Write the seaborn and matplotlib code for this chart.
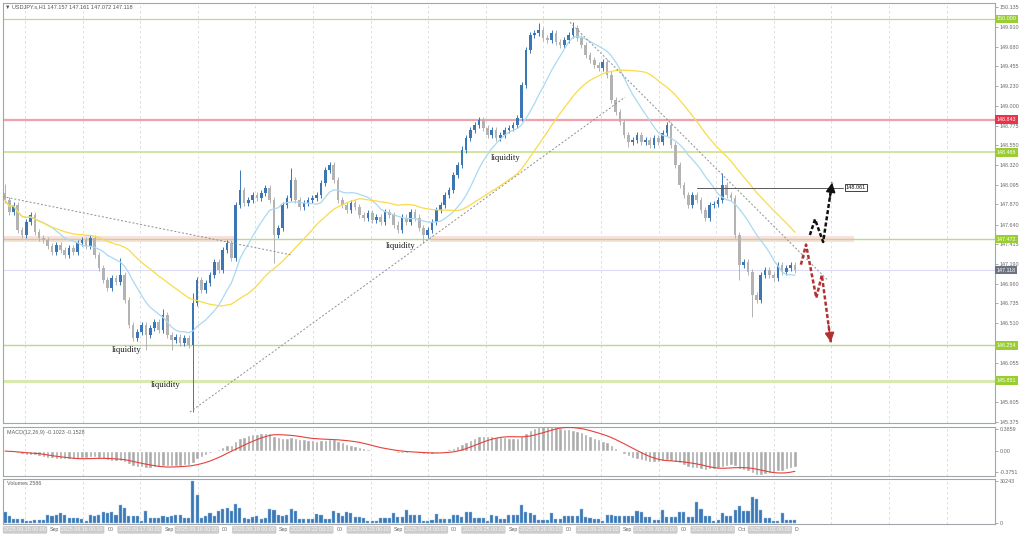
import numpy as np
import pandas as pd
import matplotlib
matplotlib.use("Agg")
import matplotlib.pyplot as plt
import matplotlib.transforms as mtransforms
import seaborn as sns

# ---- USDJPY.s H1, values ----
first_open = 148.00
closes = [
    147.92, 147.78, 147.86, 147.58, 147.52, 147.67, 147.75, 147.55, 147.49, 147.46,
    147.39, 147.33, 147.41, 147.35, 147.29, 147.37, 147.33, 147.43, 147.46, 147.39,
    147.49, 147.29, 147.14, 147.00, 146.91, 147.03, 146.98, 147.06, 146.77, 146.49,
    146.34, 146.41, 146.49, 146.37, 146.45, 146.52, 146.43, 146.60, 146.37, 146.32,
    146.35, 146.28, 146.34, 146.26, 146.74, 147.00, 146.89, 146.97, 147.06, 147.21,
    147.12, 147.35, 147.43, 147.26, 147.86, 148.04, 147.89, 147.92, 147.98, 147.94,
    148.00, 148.06, 147.92, 147.52, 147.60, 147.86, 147.94, 148.15, 147.92, 147.84,
    147.89, 147.92, 147.94, 147.98, 148.12, 148.27, 148.32, 148.15, 147.92, 147.86,
    147.81, 147.89, 147.84, 147.75, 147.72, 147.77, 147.69, 147.73, 147.67, 147.78,
    147.75, 147.64, 147.58, 147.72, 147.67, 147.78, 147.72, 147.60, 147.52, 147.58,
    147.67, 147.81, 147.86, 147.98, 148.04, 148.21, 148.32, 148.50, 148.63, 148.72,
    148.78, 148.84, 148.75, 148.67, 148.72, 148.63, 148.67, 148.72, 148.75, 148.78,
    148.86, 149.24, 149.64, 149.81, 149.84, 149.87, 149.78, 149.76, 149.84, 149.73,
    149.70, 149.76, 149.81, 149.89, 149.78, 149.70, 149.58, 149.53, 149.47, 149.44,
    149.50, 149.36, 149.07, 148.93, 148.82, 148.67, 148.59, 148.61, 148.67, 148.59,
    148.61, 148.55, 148.63, 148.59, 148.69, 148.78, 148.55, 148.32, 148.09, 147.98,
    147.86, 147.98, 147.92, 147.81, 147.72, 147.86, 147.88, 147.92, 148.09, 147.98,
    147.94, 147.52, 147.18, 147.21, 147.10, 146.83, 146.77, 147.06, 147.12, 147.06,
    147.03, 147.18, 147.10, 147.14, 147.18, 147.118,
]
volumes = [
    8100, 4900, 3000, 3000, 2800, 1200, 1500, 2500, 2500, 2200,
    6000, 5500, 6000, 7000, 6000, 3700, 3500, 3700, 3000, 1200,
    6000, 5500, 6000, 8000, 7500, 8000, 6000, 13000, 11000, 5000,
    5000, 4800, 1200, 8600, 3700, 3500, 3700, 5000, 4500, 5000,
    6000, 6000, 3700, 3500, 30000, 20000, 3700, 5000, 7000, 5500,
    9000, 10000, 11000, 9000, 14000, 11000, 4000, 3000, 4500, 5000,
    3000, 4000, 10000, 9500, 6000, 5500, 6000, 10000, 9000, 3000,
    2800, 3200, 3000, 6600, 6200, 3000, 3200, 8600, 7500, 5500,
    7900, 7500, 4200, 4200, 4000, 1200, 1500, 1200, 3700, 3500,
    3700, 7100, 4600, 4600, 9500, 6100, 6100, 5800, 1200, 1200,
    2000, 6600, 3000, 3000, 3200, 5900, 5900, 4200, 7900, 7900,
    3700, 3700, 3500, 1200, 6100, 5500, 3000, 3000, 6100, 6100,
    6100, 12800, 8000, 7000, 6000, 2200, 2200, 2500, 7100, 3000,
    3000, 5400, 5400, 5000, 5400, 10300, 4200, 4000, 3000, 3000,
    1200, 6100, 6000, 5400, 5400, 5000, 5400, 5000, 9100, 8000,
    4600, 4600, 2200, 2200, 9500, 4600, 4600, 4600, 7900, 7900,
    4600, 4600, 15200, 10500, 4900, 4900, 1200, 2500, 7400, 4900,
    4900, 9800, 12300, 8600, 8600, 18900, 17200, 9800, 3700, 3700,
    1200, 1200, 7400, 2500, 2500, 2500,
]
# long wicks that stand out (bar index -> price)
high_wicks = {0: 148.10, 27: 147.26, 37: 146.67, 44: 146.86, 55: 148.27, 67: 148.29,
              76: 148.36, 125: 149.95, 133: 149.96, 168: 148.23}
low_wicks = {33: 146.20, 39: 146.20, 44: 145.49, 63: 147.20, 98: 147.43,
             146: 148.53, 172: 147.00, 175: 146.58}
wick = 0.035

# scale labels; the two covered by level boxes stay as bare ticks
price_ticks = [150.135, 149.910, 149.680, 149.455, 149.230, 149.000, 148.775, 148.550,
               148.320, 148.095, 147.870, 147.640, 147.415, 147.190, 146.960, 146.735,
               146.510, 146.285, 146.055, 145.830, 145.605, 145.375]
hidden_ticks = [146.285, 145.830]
levels = [150.000, 148.843, 148.466, 147.472, 146.254, 145.851, 147.118]
level_line_colors = ['#bcdb80', '#f2a0aa', '#cfe39a', '#bcdb80', '#bcdb80', '#d9eab0', '#dcdcf6']
level_line_widths = [0.9, 1.6, 1.3, 1.0, 1.0, 2.2, 0.8]
level_box_colors = ['#9acd32', '#e8334a', '#9acd32', '#9acd32', '#9acd32', '#9acd32', '#6c7380']

macd_ticks = [0.3859, 0.0, -0.3751]
macd_tick_labels = ['0.3859', '0.00', '-0.3751']
vol_ticks = [30243, 0]

day_labels = ['2025.09.15 00:00', '2025.09.16 00:00', '2025.09.17 00:00', '2025.09.18 00:00',
              '2025.09.19 00:00', '2025.09.22 00:00', '2025.09.23 00:00', '2025.09.24 00:00',
              '2025.09.25 00:00', '2025.09.26 00:00', '2025.09.29 00:00', '2025.09.30 00:00',
              '2025.10.01 00:00', '2025.10.02 00:00']
gap_labels = ['Sep', '00', 'Sep', '00', 'Sep', '00', 'Sep', '00', 'Sep', '00', 'Sep', '00', 'Oct', 'D']

# annotations: (bar index, price)
liquidity_x = [28.6, 37.7, 92.7, 117.3]
liquidity_y = [146.20, 145.80, 147.39, 148.40]
trend_lines = [((-0.5, 147.96), (67.2, 147.29)),
               ((43.3, 145.49), (145.2, 149.10)),
               ((132.3, 149.96), (192.5, 147.01))]
target_price = 148.061
target_from, target_to, target_label_x = 162.0, 196.3, 199.3
up_path_x = [188.5, 189.7, 191.6, 193.7]
up_path_y = [147.52, 147.70, 147.44, 148.12]
down_path_x = [186.4, 187.6, 190.0, 191.3, 193.4]
down_path_y = [147.18, 147.41, 146.80, 147.06, 146.29]

sns.set_style("white")
plt.rcParams['font.family'] = ['Liberation Sans', 'DejaVu Sans']

idx = np.arange(len(closes))
df = pd.DataFrame({'bar': idx, 'close': closes, 'volume': volumes})
df['open'] = [first_open] + closes[:-1]
df['high'] = df[['open', 'close']].max(axis=1) + wick
df['low'] = df[['open', 'close']].min(axis=1) - wick
for k, v in high_wicks.items():
    df.loc[k, 'high'] = v
for k, v in low_wicks.items():
    df.loc[k, 'low'] = v
df['ma_fast'] = df['close'].rolling(12, min_periods=1).mean()
df['ma_slow'] = df['close'].rolling(30, min_periods=1).mean()
ema12 = df['close'].ewm(span=12, adjust=False).mean()
ema26 = df['close'].ewm(span=26, adjust=False).mean()
df['macd'] = ema12 - ema26
df['signal'] = df['macd'].rolling(9, min_periods=1).mean()

XLIM = (-0.47, 231.85)
fig = plt.figure(figsize=(10.24, 5.37), dpi=100)
ax = fig.add_axes([0.00293, 0.21229, 0.96875, 0.78305])
ax_macd = fig.add_axes([0.00293, 0.11359, 0.96875, 0.09218])
ax_vol = fig.add_axes([0.00293, 0.02421, 0.96875, 0.0838])


def style_panel(a):
    for sp in a.spines.values():
        sp.set_color('#a2a6ab')
        sp.set_linewidth(0.8)
    a.yaxis.tick_right()
    a.tick_params(axis='y', labelsize=3.9, colors='#8a8a8a', labelcolor='#6a6a6a',
                  length=2, width=0.5, pad=1.5)
    a.set_xticks([])
    a.set_xlabel('')
    a.set_ylabel('')
    for gx in np.arange(4.68, XLIM[1], 13.49):
        a.axvline(gx, color='#d8d8d8', ls=(0, (3, 3)), lw=0.6, zorder=0)


# ---- main price panel ----
bull = df['close'] >= df['open']
cols = np.where(bull, '#3b77b5', '#b3b3b3')
ax.vlines(df['bar'], df['low'], df['high'], colors=cols, lw=0.7, zorder=3)
body = np.maximum((df['close'] - df['open']).abs(), 0.008)
ax.bar(df['bar'], body, bottom=df[['open', 'close']].min(axis=1), width=0.62,
       color=cols, lw=0, zorder=4)
sns.lineplot(data=df, x='bar', y='ma_fast', color='#a9d9f2', lw=0.9, ax=ax, zorder=5)
sns.lineplot(data=df, x='bar', y='ma_slow', color='#f8dc4a', lw=0.9, ax=ax, zorder=5)

ax.axhspan(147.44, 147.51, xmin=0.0, xmax=0.235, color='#fbdede', lw=0, zorder=1)
ax.axhspan(147.44, 147.51, xmin=0.43, xmax=0.858, color='#fbdede', lw=0, zorder=1)
for lv, lc, lw in zip(levels, level_line_colors, level_line_widths):
    ax.axhline(lv, color=lc, lw=lw, zorder=1.5)

for (x0, y0), (x1, y1) in trend_lines:
    ax.plot([x0, x1], [y0, y1], color='#8e8e8e', ls=(0, (2, 2)), lw=0.7, zorder=6)

ax.plot([target_from, target_to], [target_price, target_price], color='#5a5a5a', lw=0.7, zorder=6)
ax.text(target_label_x, target_price, f'{target_price:.3f}', ha='center', va='center',
        fontsize=4, color='#111111', zorder=9,
        bbox=dict(boxstyle='square,pad=0.2', fc='white', ec='#222222', lw=0.6))

for px, py, colr in [(up_path_x, up_path_y, '#111111'), (down_path_x, down_path_y, '#b23030')]:
    ax.plot(px, py, color=colr, lw=1.8, ls=(0, (1.6, 0.9)), zorder=7, solid_capstyle='butt')
    ax.annotate('', xy=(px[-1], py[-1]),
                xytext=(px[-1] - 0.25 * (px[-1] - px[-2]), py[-1] - 0.25 * (py[-1] - py[-2])),
                arrowprops=dict(arrowstyle='-|>,head_length=0.55,head_width=0.28',
                                color=colr, lw=1.2, shrinkA=0, shrinkB=0), zorder=8)

for lx, ly in zip(liquidity_x, liquidity_y):
    ax.text(lx, ly, 'liquidity', ha='center', va='center', fontsize=6.2,
            family=['Liberation Serif', 'DejaVu Serif'], color='#1c1c1c', zorder=9)

ax.text(0.002, 0.995, '\u25bc USDJPY.s,H1 147.157 147.161 147.072 147.118',
        transform=ax.transAxes, ha='left', va='top', fontsize=4, color='#555555', zorder=9)

style_panel(ax)
ax.set_xlim(*XLIM)
ax.set_ylim(145.364, 150.186)
ax.set_yticks(price_ticks)
ax.set_yticklabels(['' if t in hidden_ticks else f'{t:.3f}' for t in price_ticks])

trans = mtransforms.blended_transform_factory(ax.transAxes, ax.transData)
for lv, bc in zip(levels, level_box_colors):
    ax.text(1.0015, lv, f'{lv:.3f}', transform=trans, ha='left', va='center', fontsize=3.9,
            color='white', zorder=12, clip_on=False,
            bbox=dict(boxstyle='square,pad=0.3', fc=bc, ec='none'))

# ---- MACD panel ----
sns.barplot(data=df, x='bar', y='macd', native_scale=True, color='#ababab', saturation=1,
            width=0.8, errorbar=None, ax=ax_macd, zorder=2)
sns.lineplot(data=df, x='bar', y='signal', color='#e5403a', lw=0.8, ax=ax_macd, zorder=3)
ax_macd.text(0.004, 0.92, 'MACD(12,26,9) -0.1023 -0.1528', transform=ax_macd.transAxes,
             ha='left', va='top', fontsize=3.9, color='#606060')
style_panel(ax_macd)
ax_macd.set_xlim(*XLIM)
ax_macd.set_ylim(-0.446, 0.439)
ax_macd.set_yticks(macd_ticks)
ax_macd.set_yticklabels(macd_tick_labels)

# ---- volume panel ----
sns.barplot(data=df, x='bar', y='volume', native_scale=True, color='#3c78b5', saturation=1,
            width=0.72, errorbar=None, ax=ax_vol, edgecolor='#9cc2e4', linewidth=0.3, zorder=2)
ax_vol.text(0.004, 0.95, 'Volumes 2586', transform=ax_vol.transAxes,
            ha='left', va='top', fontsize=3.9, color='#606060')
style_panel(ax_vol)
ax_vol.set_xlim(*XLIM)
ax_vol.set_ylim(-600, 31800)
ax_vol.set_yticks(vol_ticks)
ax_vol.set_yticklabels([str(v) for v in vol_ticks])

dtrans = mtransforms.blended_transform_factory(ax_vol.transData, ax_vol.transAxes)
for k, (lab, gap) in enumerate(zip(day_labels, gap_labels)):
    x0 = -0.2 + 13.42 * k
    ax_vol.text(x0, -0.075, lab, transform=dtrans, ha='left', va='top', fontsize=3.8,
                color='#f7f7f7', clip_on=False,
                bbox=dict(boxstyle='round,pad=0.25', fc='#cccccc', ec='none'))
    ax_vol.text(x0 + 10.75, -0.075, gap, transform=dtrans, ha='left', va='top',
                fontsize=3.8, color='#666666', clip_on=False)

fig.savefig('out.png', dpi=100, facecolor='white')
